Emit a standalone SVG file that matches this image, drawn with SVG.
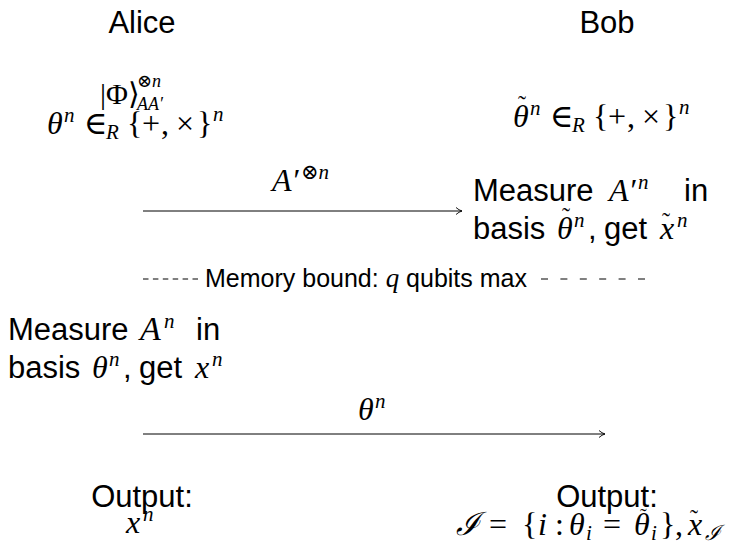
<svg xmlns="http://www.w3.org/2000/svg" width="738" height="544" viewBox="0 0 738 544">
<style>
.s{font-family:"Liberation Sans",Arial,sans-serif;font-size:31px;fill:#000}
.m{font-family:"Liberation Serif","DejaVu Serif",serif;font-size:32px;fill:#000}
.i{font-style:italic}
.sm{font-size:21px}
.ti{font-family:"Liberation Serif","DejaVu Serif",serif;font-size:24px;fill:#000}
.mb{font-family:"Liberation Sans",Arial,sans-serif;font-size:25px;fill:#000}
.c{text-anchor:middle}
.ln{stroke:#000;stroke-width:1;fill:none}
.dashL{stroke:#000;stroke-width:1;fill:none;stroke-dasharray:5.5 4.4}
.dashR{stroke:#000;stroke-width:1;fill:none;stroke-dasharray:7 12.4}
</style>
<defs>
<marker id="ah" markerWidth="10" markerHeight="10" refX="7" refY="5" orient="auto" markerUnits="userSpaceOnUse">
<path d="M1,1.5 Q4,4.2 7,5 Q4,5.8 1,8.5" fill="none" stroke="#000" stroke-width="0.9"/>
</marker>
</defs>
<g id="alice-title"><text class="s c" x="142" y="33">Alice</text></g>
<g id="bob-title"><text class="s c" x="607" y="33">Bob</text></g>
<g id="alice-state">
<text class="m" x="100" y="104" style="font-size:30px">|Φ⟩</text>
<text class="m" x="137" y="87" style="font-size:18px">⊗<tspan class="i">n</tspan></text>
<text class="m i" x="137" y="110" style="font-size:18px">AA′</text>
<text class="m" y="134"><tspan class="i" x="47">θ</tspan><tspan class="sm i" x="64" y="122">n</tspan><tspan x="84" y="134">∈</tspan><tspan class="sm i" x="106" y="139">R</tspan><tspan x="127" y="134">{</tspan><tspan x="142">+</tspan><tspan x="161">,</tspan><tspan x="176">×</tspan><tspan x="197">}</tspan><tspan class="sm i" x="213" y="121">n</tspan></text>
</g>
<g id="bob-basis">
<text class="m" y="127"><tspan class="i" x="513">θ</tspan><tspan class="sm i" x="530" y="115">n</tspan><tspan x="550" y="127">∈</tspan><tspan class="sm i" x="572" y="132">R</tspan><tspan x="593" y="127">{</tspan><tspan x="608">+</tspan><tspan x="627">,</tspan><tspan x="642">×</tspan><tspan x="663">}</tspan><tspan class="sm i" x="679" y="114">n</tspan></text>
<text class="ti" x="518" y="112">˜</text>
</g>
<g id="bob-measure">
<text class="s" y="201"><tspan x="473">Measure</tspan><tspan class="m i" x="609">A′</tspan><tspan class="m sm i" x="638" y="189">n</tspan><tspan x="684" y="201">in</tspan></text>
<text class="s" y="239"><tspan x="473">basis</tspan><tspan class="m i" x="557">θ</tspan><tspan class="m sm i" x="574" y="227">n</tspan><tspan x="588" y="239">,</tspan><tspan x="604">get</tspan><tspan class="m i" x="660">x</tspan><tspan class="m sm i" x="677" y="227">n</tspan></text>
<text class="ti" x="562" y="224">˜</text>
<text class="ti" x="662" y="229">˜</text>
</g>
<g id="memory-bound">
<line class="dashL" x1="143" y1="279" x2="198" y2="279"/>
<text class="mb" x="205" y="287">Memory bound: <tspan class="m i" style="font-size:27px">q</tspan> qubits max</text>
<line class="dashR" x1="541" y1="279" x2="646" y2="279"/>
</g>
<g id="alice-measure">
<text class="s" y="340"><tspan x="8">Measure</tspan><tspan class="m i" x="140" style="font-size:34px">A</tspan><tspan class="m sm i" x="164" y="328">n</tspan><tspan x="196" y="340">in</tspan></text>
<text class="s" y="378"><tspan x="8">basis</tspan><tspan class="m i" x="92">θ</tspan><tspan class="m sm i" x="109" y="366">n</tspan><tspan x="123" y="378">,</tspan><tspan x="139">get</tspan><tspan class="m i" x="195">x</tspan><tspan class="m sm i" x="212" y="366">n</tspan></text>
</g>
<g id="alice-output">
<text class="s c" x="142" y="507">Output:</text>
<text class="m i" x="126" y="533">x<tspan class="sm" x="143" y="521">n</tspan></text>
</g>
<g id="bob-output">
<text class="s c" x="607" y="507">Output:</text>
<text class="m" y="535"><tspan class="i" x="456">ℐ</tspan><tspan x="489">=</tspan><tspan x="522">{</tspan><tspan class="i" x="538">i</tspan><tspan x="555">:</tspan><tspan class="i" x="569">θ</tspan><tspan class="sm i" x="586" y="540">i</tspan><tspan x="603" y="535">=</tspan><tspan class="i" x="634">θ</tspan><tspan class="sm i" x="651" y="540">i</tspan><tspan x="660" y="535">}</tspan><tspan x="675">,</tspan><tspan class="i" x="688">x</tspan><tspan class="sm i" x="705" y="540">ℐ</tspan></text>
<text class="ti" x="640" y="523" style="font-size:20px">˜</text>
<text class="ti" x="690" y="526">˜</text>
</g>
<g id="connectors">
<line class="ln" x1="143" y1="211" x2="462" y2="211" marker-end="url(#ah)"/>
<text class="m i" x="272" y="191">A′<tspan class="sm" x="301" y="179">⊗</tspan><tspan class="sm">n</tspan></text>
<line class="ln" x1="143" y1="434" x2="605" y2="434" marker-end="url(#ah)"/>
<text class="m i" x="358" y="420">θ<tspan class="sm" x="375" y="408">n</tspan></text>
</g>
</svg>
